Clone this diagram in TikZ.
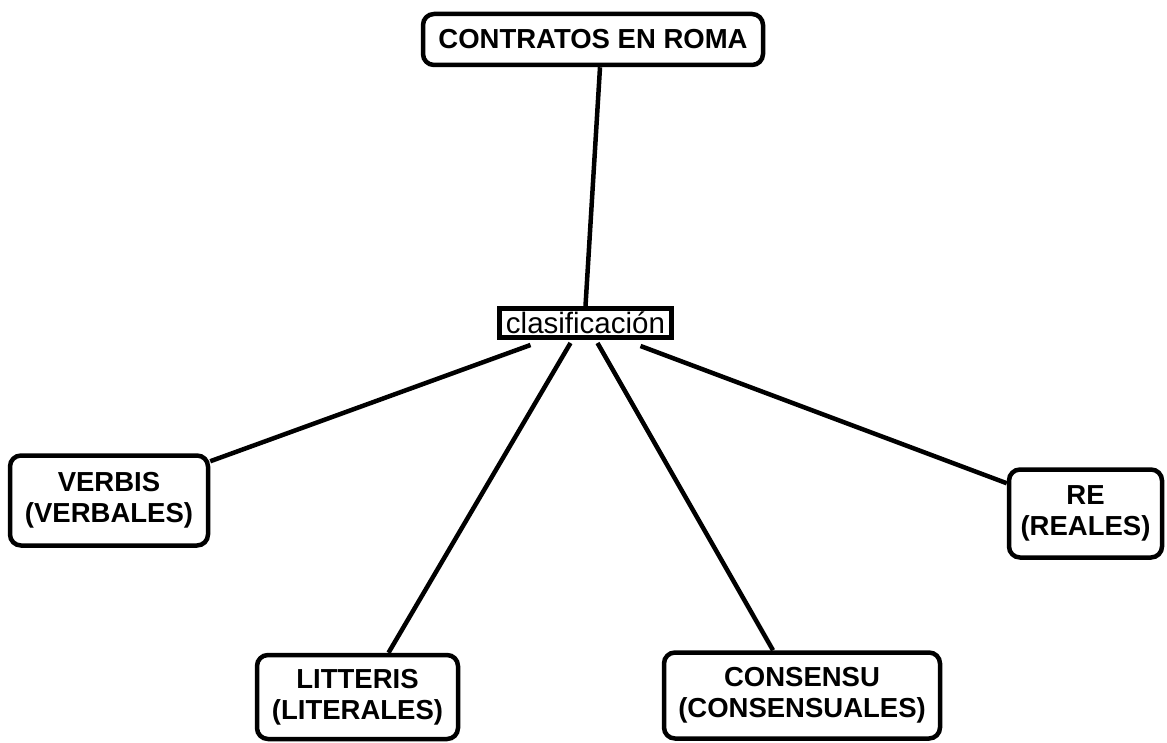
\documentclass[tikz,border=0pt]{standalone}
\usepackage{fontspec}
\setmainfont{Liberation Sans}
\usetikzlibrary{calc}
\tikzset{
  box/.style={draw=black, line width=4.5pt, rounded corners=11pt, fill=white, align=center, font=\bfseries\fontsize{27.5}{31}\selectfont, inner sep=0pt},
  clsbox/.style={draw=black, line width=5pt, fill=white, font=\fontsize{29.5}{32}\selectfont, inner sep=0pt},
  link/.style={line width=4.5pt, black}
}
\begin{document}
\begin{tikzpicture}[x=1pt,y=-1pt]
\useasboundingbox (0,0) rectangle (1167,743);
\node[box, minimum width=340pt, minimum height=51pt] (top) at (593,39.5) {CONTRATOS EN ROMA};
\node[clsbox, minimum width=172pt, minimum height=29pt] (cls) at (585.5,323) {clasificación};
\node[box, minimum width=198pt, minimum height=90pt] (verbis) at (109,500.5) {VERBIS\\(VERBALES)};
\node[box, minimum width=201pt, minimum height=84pt] (litteris) at (357.5,697) {LITTERIS\\(LITERALES)};
\node[box, minimum width=276pt, minimum height=86pt] (consensu) at (802,695.5) {CONSENSU\\(CONSENSUALES)};
\node[box, minimum width=153pt, minimum height=88pt] (re) at (1085.5,513.5) {RE\\(REALES)};
\draw[link] ([xshift=7pt]top.south) -- ([xshift=0pt]cls.north);
\draw[link] ([xshift=-55pt,yshift=-5pt]cls.south) -- ([yshift=-8pt]verbis.north east);
\draw[link] ([xshift=-15pt,yshift=-3pt]cls.south) -- ([xshift=31pt]litteris.north);
\draw[link] ([xshift=12pt,yshift=-3pt]cls.south) -- ([xshift=-29pt]consensu.north);
\draw[link] ([xshift=55pt,yshift=-6pt]cls.south) -- ([yshift=-16pt]re.north west);
\end{tikzpicture}
\end{document}
